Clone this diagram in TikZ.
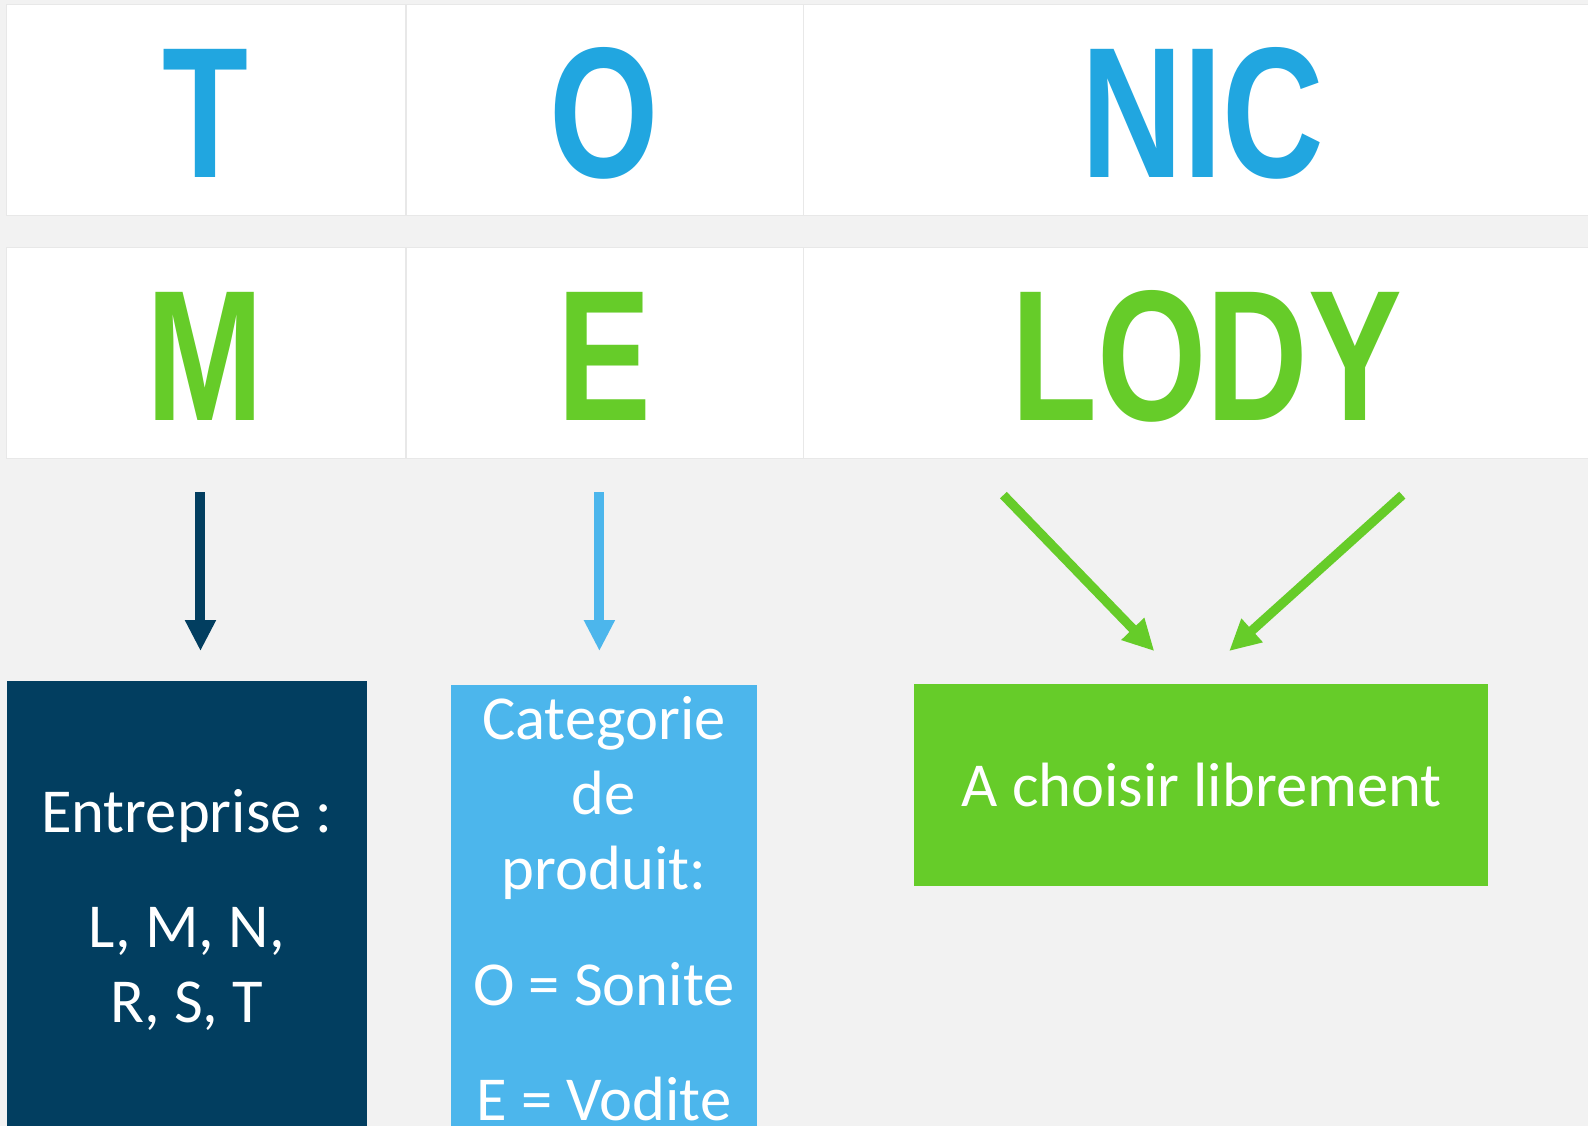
\documentclass[tikz,border=0pt]{standalone}
\usepackage{fontspec}
\setmainfont{Carlito}
\newfontfamily\bigfont[FakeStretch=0.755]{Liberation Sans}
\usetikzlibrary{arrows.meta,fit}
\definecolor{bg}{HTML}{F2F2F2}
\definecolor{tblue}{HTML}{21A6E0}
\definecolor{tgreen}{HTML}{66CC29}
\definecolor{navy}{HTML}{023E60}
\definecolor{lblue}{HTML}{4CB6EC}
\definecolor{cellline}{HTML}{E8E8E8}
\tikzset{
  cell/.style={draw=cellline, line width=0.6pt, fill=white, inner sep=0pt, outer sep=0pt},
  bigl/.style={font=\bigfont\bfseries\fontsize{106}{108}\selectfont, inner sep=0pt, anchor=base},
  box/.style={inner sep=0pt, outer sep=0pt},
  boxtext/.style={text=white, align=center, inner sep=0pt, anchor=base, font=\fontsize{35.6}{42.7}\selectfont},
  arr/.style={line width=5.7pt, -{Triangle[length=17.6pt, width=16.5pt]}},
  garr/.style={line width=5.3pt, color=tgreen, -{Triangle[length=17.6pt, width=17pt]}}
}
\begin{document}
\begin{tikzpicture}[x=0.02025cm, y=-0.02025cm]
\path[use as bounding box, fill=bg] (0,0) rectangle (1568.4,1112.1);
% table rows
\node[cell, fit={(6,4) (401,213)}] (c11) {};
\node[cell, fit={(401,4) (794,213)}] (c12) {};
\node[cell, fit={(794,4) (1600,213)}] (c13) {};
\node[cell, fit={(6,244) (401,453)}] (c21) {};
\node[cell, fit={(401,244) (794,453)}] (c22) {};
\node[cell, fit={(794,244) (1600,453)}] (c23) {};
% letters
\node[bigl, text=tblue] (T) at (203,175) {T};
\node[bigl, text=tblue] (O) at (597,175) {O};
\node[bigl, text=tblue] (NIC) at (1188,175) {NIC};
\node[bigl, text=tgreen] (M) at (203,415) {M};
\node[bigl, text=tgreen] (E) at (597,415) {E};
\node[bigl, text=tgreen] (LODY) at (1192,415) {LODY};
% boxes
\node[box, fill=navy, fit={(7,673) (362,1130)}] (bnavy) {};
\node[box, fill=lblue, fit={(445,677) (748,1130)}] (bblue) {};
\node[box, fill=tgreen, fit={(903,676) (1470,875)}] (bgreen) {};
\node[boxtext] (tnavy) at (184.5,1010) {Entreprise :\\[23pt] L, M, N,\\ R, S, T};
\node[boxtext] (tblue) at (596.5,1107) {Categorie\\ de\\ produit:\\[23pt] O = Sonite\\[23pt] E = Vodite};
\node[boxtext] (tgreen) at (1187,797) {A choisir librement};
% arrows
\coordinate (a1s) at (198,486);
\coordinate (a1e) at (198,643);
\coordinate (a2s) at (592,486);
\coordinate (a2e) at (592,643);
\coordinate (a3s) at (991,489);
\coordinate (a3e) at (1140,643);
\coordinate (a4s) at (1385,489);
\coordinate (a4e) at (1214,643);
\draw[arr, color=navy] (a1s) -- (a1e);
\draw[arr, color=lblue] (a2s) -- (a2e);
\draw[garr] (a3s) -- (a3e);
\draw[garr] (a4s) -- (a4e);
\end{tikzpicture}
\end{document}
